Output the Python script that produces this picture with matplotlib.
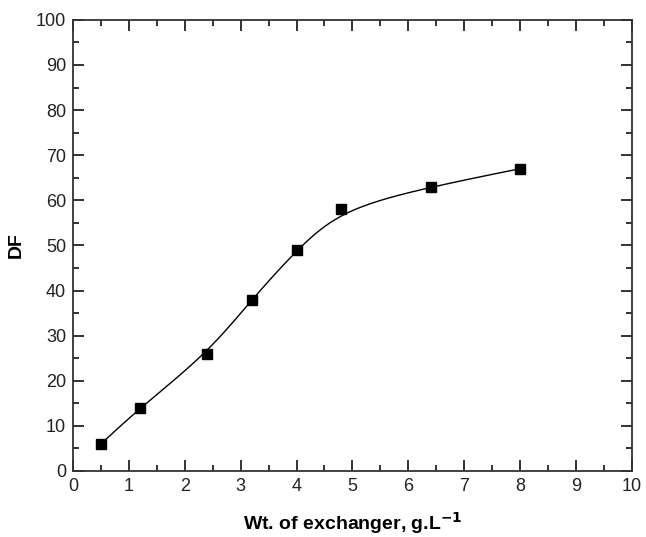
import matplotlib
matplotlib.use("Agg")
import matplotlib.pyplot as plt
import numpy as np

plt.rcParams['font.family'] = ['Liberation Sans', 'DejaVu Sans']

# data
wt = [0.5, 1.2, 2.4, 3.2, 4.0, 4.8, 6.4, 8.0]
df = [6, 14, 26, 38, 49, 58, 63, 67]


def bspline(x, y, n=60):
    """Uniform cubic B-spline with the points as control points,
    ends padded so the curve starts and stops on the end points."""
    p = np.column_stack([x, y]).astype(float)
    q = np.vstack([2 * p[0] - p[1], p, 2 * p[-1] - p[-2]])
    t = np.linspace(0, 1, n)[:, None]
    b0 = (1 - t) ** 3 / 6
    b1 = (3 * t**3 - 6 * t**2 + 4) / 6
    b2 = (-3 * t**3 + 3 * t**2 + 3 * t + 1) / 6
    b3 = t**3 / 6
    segs = [b0 * q[i] + b1 * q[i + 1] + b2 * q[i + 2] + b3 * q[i + 3]
            for i in range(len(q) - 3)]
    pts = np.vstack(segs)
    return pts[:, 0], pts[:, 1]


fig = plt.figure(figsize=(6.46, 5.37), dpi=100)
ax = fig.add_axes([0.113, 0.123, 0.865, 0.840])

xs, ys = bspline(wt, df)
ax.plot(xs, ys, color='black', lw=1.0)
ax.plot(wt, df, 's', color='black', ms=7)

ax.set_xlim(0, 10)
ax.set_ylim(0, 100)
ax.set_xticks(np.arange(0, 11, 1))
ax.set_yticks(np.arange(0, 101, 10))
ax.set_xticks(np.arange(0.5, 10, 1), minor=True)
ax.set_yticks(np.arange(5, 100, 10), minor=True)
ax.tick_params(which='both', direction='in', top=True, right=True,
               width=1.3, labelsize=13, colors='#222222')
ax.tick_params(which='major', length=8, pad=5)
ax.tick_params(which='minor', length=4.5)
for s in ax.spines.values():
    s.set_linewidth(1.3)
    s.set_color('#333333')

ax.set_xlabel('Wt. of exchanger, g.L$^{\\mathbf{-1}}$', fontsize=14,
              fontweight='bold', labelpad=11)
ax.set_ylabel('DF', fontsize=14, fontweight='bold', labelpad=8)

fig.savefig('out.png', dpi=100)
